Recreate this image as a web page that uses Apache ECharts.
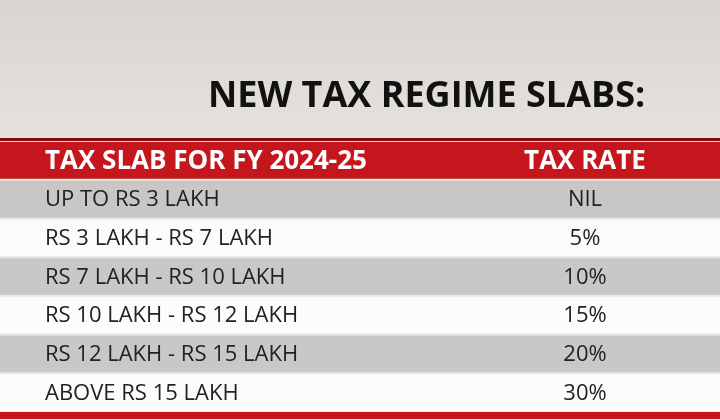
<!DOCTYPE html>
<html><head><meta charset="utf-8">
<script src="https://cdn.jsdelivr.net/npm/echarts@6/dist/echarts.min.js"></script>
<style>html,body{margin:0;padding:0}#c{width:720px;height:419px}</style>
</head><body><div id="c"></div>
<script>
const title = "NEW TAX REGIME SLABS:";
const headers = ["TAX SLAB FOR FY 2024-25", "TAX RATE"];
const slabs = ["UP TO RS 3 LAKH", "RS 3 LAKH - RS 7 LAKH", "RS 7 LAKH - RS 10 LAKH", "RS 10 LAKH - RS 12 LAKH", "RS 12 LAKH - RS 15 LAKH", "ABOVE RS 15 LAKH"];
const rates = ["NIL", "5%", "10%", "15%", "20%", "30%"];

const cats = ["header"].concat(slabs);
const data = cats.map((c, i) => [0, i]);
const chart = echarts.init(document.getElementById('c'));
const font = '"Open Sans", "DejaVu Sans", sans-serif';
chart.setOption({
  backgroundColor: {type:'linear',x:0,y:0,x2:0,y2:1,colorStops:[{offset:0,color:'#d9d4cf'},{offset:0.35,color:'#e6e2de'},{offset:1,color:'#ece9e6'}]},
  graphic: [
    {type:'text', left:208, top:79, style:{text:title, font:'bold 36px '+font, fill:'#111'}},
    {type:'rect', left:0, top:138, shape:{width:720,height:3}, style:{fill:'#8a0a0a'}},
    {type:'rect', left:0, top:412, shape:{width:720,height:7}, style:{fill:'#c4161c'}}
  ],
  grid: {left:0, right:0, top:141, bottom:7},
  xAxis: {type:'value', min:0, max:1, show:false},
  yAxis: {type:'category', data:cats, inverse:true, show:false},
  series: [{
    type:'custom', data:data,
    renderItem: function(params, api){
      const i = api.value(1);
      const p = api.coord([0, i]);
      const h = api.size([0,1])[1];
      const y0 = p[1] - h/2;
      const W = params.coordSys.width;
      const isHead = i === 0;
      const fill = isHead ? '#c4161c' : (i % 2 === 1 ? 'rgba(190,190,190,0.75)' : 'rgba(255,255,255,0.85)');
      const tc = isHead ? '#fff' : '#222';
      const left = isHead ? headers[0] : slabs[i-1];
      const right = isHead ? headers[1] : rates[i-1];
      const fs = isHead ? 'bold 26px ' : '22px ';
      return {type:'group', children:[
        {type:'rect', shape:{x:0, y:y0+1, width:W, height:h-2}, style:{fill:fill}},
        {type:'text', style:{x:45, y:p[1]+1, text:left, font:fs+font, fill:tc, textVerticalAlign:'middle'}},
        {type:'text', style:{x:585, y:p[1]+1, text:right, font:fs+font, fill:tc, textAlign:'center', textVerticalAlign:'middle'}}
      ]};
    }
  }]
});
</script></body></html>
